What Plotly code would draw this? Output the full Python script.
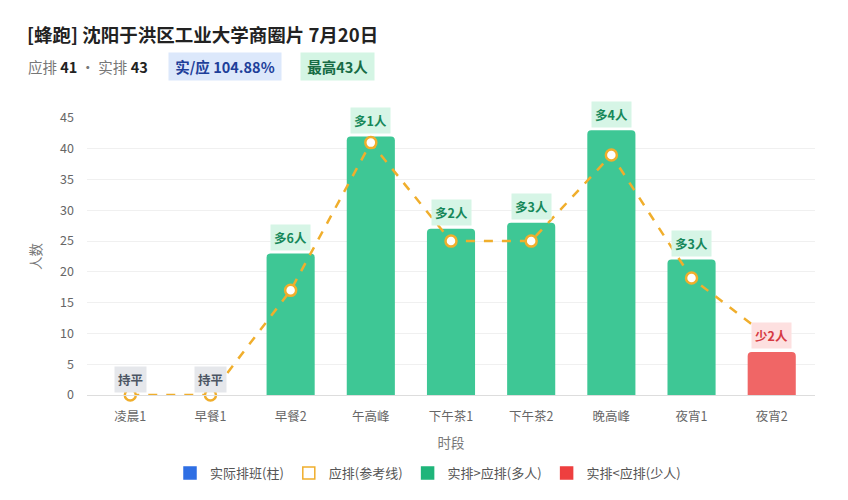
import plotly.graph_objects as go

# 数据
periods = ["凌晨1", "早餐1", "早餐2", "午高峰", "下午茶1", "下午茶2", "晚高峰", "夜宵1", "夜宵2"]
actual = [0, 0, 23, 42, 27, 28, 43, 22, 7]    # 实排
planned = [0, 0, 17, 41, 25, 25, 39, 19, 9]   # 应排
plan_total = 41
act_total = 43

GREEN = "#3ec795"
RED = "#f06666"
BLUE = "#2f6fe4"
ORANGE = "#f0ae2c"
FONT = "Noto Sans CJK SC"

# 页面 body 有 8px 外边距, 坐标整体减掉
OFF = 8
W, H = 848 - OFF, 500 - OFF
L, R, T, B = 87 - OFF, 33, 118 - OFF, 105
pw, ph = W - L - R, H - T - B


def px_x(x):
    return (x - OFF - L) / pw


def px_y(y):
    return (H - B - (y - OFF)) / ph


bar_colors = [RED if a < p else GREEN for a, p in zip(actual, planned)]

fig = go.Figure()

fig.add_trace(go.Bar(
    x=periods, y=actual, marker_color=bar_colors, marker_cornerradius=4,
    marker_line_width=0, showlegend=False, hoverinfo="x+y", width=0.6,
))

fig.add_trace(go.Scatter(
    x=periods, y=planned, mode="lines+markers", showlegend=False,
    line=dict(color=ORANGE, width=2.5, dash="dash"),
    marker=dict(size=11, color="white", line=dict(color=ORANGE, width=2.5)),
    cliponaxis=False,
))

# 图例用的占位 trace
legend_items = [
    ("实际排班(柱)", "square", BLUE),
    ("应排(参考线)", "square-open", ORANGE),
    ("实排>应排(多人)", "square", "#1fb57a"),
    ("实排<应排(少人)", "square", "#ee3f3f"),
]
for name, sym, col in legend_items:
    fig.add_trace(go.Scatter(
        x=[None], y=[None], mode="markers", name=name,
        marker=dict(symbol=sym, size=12, color=col, line=dict(color=col, width=1.5)),
    ))

# 差值标签
for p, a, pl in zip(periods, actual, planned):
    d = a - pl
    if d > 0:
        txt, bg, fc = f"多{d}人", "#d6f5e6", "#17885a"
    elif d < 0:
        txt, bg, fc = f"少{-d}人", "#fde0e0", "#d63a42"
    else:
        txt, bg, fc = "持平", "#e5e7eb", "#4b5563"
    fig.add_annotation(
        x=p, y=a, text=f"<b>{txt}</b>", showarrow=False, yanchor="middle",
        yshift=16, bgcolor=bg, borderpad=3,
        font=dict(size=12.5, color=fc, family=FONT),
    )

# 副标题
fig.add_annotation(
    xref="paper", yref="paper", x=px_x(26), y=px_y(66), xanchor="left", yanchor="middle",
    text=f"应排 <b><span style='color:#222'>{plan_total}</span></b>"
         f" · 实排 <b><span style='color:#222'>{act_total}</span></b>",
    showarrow=False, font=dict(size=14.5, color="#777", family=FONT),
)
fig.add_annotation(
    xref="paper", yref="paper", x=px_x(225), y=px_y(66), xanchor="center", yanchor="middle",
    text=f"&nbsp;<b>实/应 {act_total / plan_total * 100:.2f}%</b>&nbsp;", showarrow=False,
    bgcolor="#dce8fb", borderpad=3, font=dict(size=14.5, color="#1e3f9a", family=FONT),
)
fig.add_annotation(
    xref="paper", yref="paper", x=px_x(337), y=px_y(66), xanchor="center", yanchor="middle",
    text=f"&nbsp;<b>最高{max(actual)}人</b>&nbsp;", showarrow=False, bgcolor="#d4f5e4",
    borderpad=3, font=dict(size=14.5, color="#176c45", family=FONT),
)

fig.update_layout(
    width=W, height=H,
    margin=dict(l=L, r=R, t=T, b=B),
    paper_bgcolor="white", plot_bgcolor="white",
    font=dict(family=FONT, color="#666", size=12),
    title=dict(
        text="<b>[蜂跑] 沈阳于洪区工业大学商圈片 7月20日</b>",
        x=(27 - OFF) / W, xref="container", xanchor="left",
        y=1 - (36 - OFF) / H, yref="container", yanchor="middle",
        font=dict(size=18.5, color="#222", family=FONT),
    ),
    legend=dict(
        orientation="h", xref="container", x=(428 - OFF) / W, xanchor="center",
        yref="container", y=1 - (473 - OFF) / H, yanchor="middle",
        font=dict(size=13, color="#555"), itemwidth=30,
    ),
    xaxis=dict(
        title=dict(text="时段", font=dict(size=13.5, color="#777"), standoff=14),
        showline=True, linecolor="#ddd", ticks="outside", ticklen=10, tickcolor="rgba(0,0,0,0)",
        tickfont=dict(size=12.5, color="#666"), showgrid=False, automargin=False,
    ),
    yaxis=dict(
        title=dict(text="人数", font=dict(size=13.5, color="#777"), standoff=15),
        range=[0, 45], dtick=5, gridcolor="#f0f0f0", zeroline=False, automargin=False,
        tickfont=dict(size=12.5, color="#666"), showline=False, ticklabelstandoff=12,
    ),
)

fig.write_html("out.html")
